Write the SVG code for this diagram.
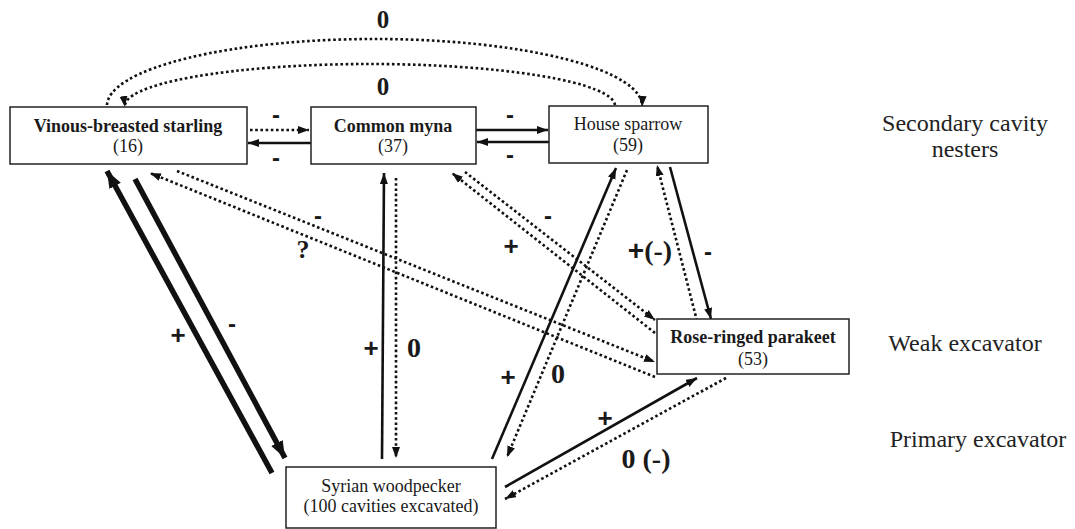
<svg xmlns="http://www.w3.org/2000/svg" width="1075" height="529" viewBox="0 0 1075 529">
<defs>
<style>
.box{fill:#fff;stroke:#222;stroke-width:1.5}
.t{font-family:"Liberation Serif","Times New Roman",serif;font-size:18px;fill:#1a1a1a;text-anchor:middle}
.b{font-weight:bold}
.lvl{font-family:"Liberation Serif","Times New Roman",serif;font-size:24px;fill:#222;text-anchor:middle}
.s{fill:none;stroke:#111;stroke-width:2.6;marker-end:url(#ah)}
.d{fill:none;stroke:#111;stroke-width:2.6;stroke-dasharray:2.6 2.6;marker-end:url(#ah)}
.k{fill:none;stroke:#111;stroke-width:5.5;marker-end:url(#ahk)}
.lp{font-family:"Liberation Sans",Arial,sans-serif;font-weight:bold;font-size:26px;fill:#1a1a1a;text-anchor:middle}
.lm{font-family:"Liberation Sans",Arial,sans-serif;font-weight:bold;font-size:24px;fill:#1a1a1a;text-anchor:middle}
.lz{font-family:"Liberation Serif","Times New Roman",serif;font-weight:bold;font-size:28px;fill:#1a1a1a;text-anchor:middle}
</style>
<marker id="ah" markerUnits="userSpaceOnUse" markerWidth="12" markerHeight="9" refX="11" refY="4" orient="auto"><path d="M0,0 L11,4 L0,8 z" fill="#111"/></marker>
<marker id="ahk" markerUnits="userSpaceOnUse" markerWidth="18" markerHeight="14" refX="17" refY="6.5" orient="auto"><path d="M0,0 L17,6.5 L0,13 z" fill="#111"/></marker>
</defs>

<g id="connectors">
<line class="d" x1="250" y1="130" x2="309" y2="130"/>
<line class="s" x1="311" y1="143" x2="248" y2="143"/>
<line class="s" x1="476" y1="130" x2="548" y2="130"/>
<line class="s" x1="549" y1="142" x2="477" y2="142"/>
<path class="d" d="M107,105 A267.5,67 0 0 1 642,107"/>
<path class="d" d="M615,105 A245,42 0 0 0 125,107"/>
<line class="k" x1="272" y1="473" x2="107" y2="171"/>
<line class="k" x1="135" y1="179" x2="285" y2="458"/>
<line class="d" x1="177" y1="171" x2="655" y2="362"/>
<line class="d" x1="655" y1="377" x2="150" y2="173"/>
<line class="d" x1="465" y1="172" x2="655" y2="320"/>
<line class="d" x1="655" y1="333" x2="452" y2="173"/>
<line class="s" x1="382" y1="459" x2="384" y2="173"/>
<line class="d" x1="396" y1="178" x2="396" y2="458"/>
<line class="s" x1="492" y1="459" x2="616" y2="168"/>
<line class="d" x1="627" y1="170" x2="507" y2="457"/>
<line class="d" x1="697" y1="321" x2="657" y2="165"/>
<line class="s" x1="670" y1="167" x2="711" y2="319"/>
<line class="s" x1="505" y1="487" x2="697" y2="378"/>
<line class="d" x1="726" y1="378" x2="505" y2="499"/>

<text class="lz" x="383" y="28" style="font-size:25px">0</text>
<text class="lz" x="383" y="95" style="font-size:25px">0</text>
<text class="lm" x="276" y="123">-</text>
<text class="lm" x="276" y="166">-</text>
<text class="lm" x="510" y="123">-</text>
<text class="lm" x="510" y="163">-</text>
<text class="lp" x="178" y="344">+</text>
<text class="lm" x="232" y="332">-</text>
<text class="lm" x="318" y="224">-</text>
<text class="lz" x="303" y="258" style="font-size:26px">?</text>
<text class="lp" x="371" y="357">+</text>
<text class="lz" x="414" y="357">0</text>
<text class="lm" x="548" y="224">-</text>
<text class="lp" x="511" y="255">+</text>
<text class="lp" x="508" y="386">+</text>
<text class="lz" x="558" y="383">0</text>
<text class="lz" x="650" y="260"><tspan style="font-family:'Liberation Sans',Arial,sans-serif">+</tspan>(-)</text>
<text class="lm" x="708" y="260">-</text>
<text class="lp" x="605" y="427">+</text>
<text class="lz" x="646" y="468">0 (-)</text>
</g>

<g id="node-vinous">
<rect class="box" x="10" y="107" width="237" height="57"/>
<text class="t b" x="128" y="132">Vinous-breasted starling</text>
<text class="t" x="128" y="152">(16)</text>
</g>
<g id="node-myna">
<rect class="box" x="311" y="107" width="165" height="57"/>
<text class="t b" x="393" y="132">Common myna</text>
<text class="t" x="393" y="152">(37)</text>
</g>
<g id="node-sparrow">
<rect class="box" x="549" y="106" width="159" height="57"/>
<text class="t" x="628" y="130">House sparrow</text>
<text class="t" x="628" y="151">(59)</text>
</g>
<g id="node-parakeet">
<rect class="box" x="657" y="319" width="192" height="55"/>
<text class="t b" x="753" y="343">Rose-ringed parakeet</text>
<text class="t" x="753" y="365">(53)</text>
</g>
<g id="node-woodpecker">
<rect class="box" x="286" y="467" width="210" height="61"/>
<text class="t" x="391" y="492">Syrian woodpecker</text>
<text class="t" x="391" y="512">(100 cavities excavated)</text>
</g>

<g id="levels">
<text class="lvl" x="965" y="131">Secondary cavity</text>
<text class="lvl" x="965" y="157">nesters</text>
<text class="lvl" x="965" y="351">Weak excavator</text>
<text class="lvl" x="978" y="447">Primary excavator</text>
</g>
</svg>
